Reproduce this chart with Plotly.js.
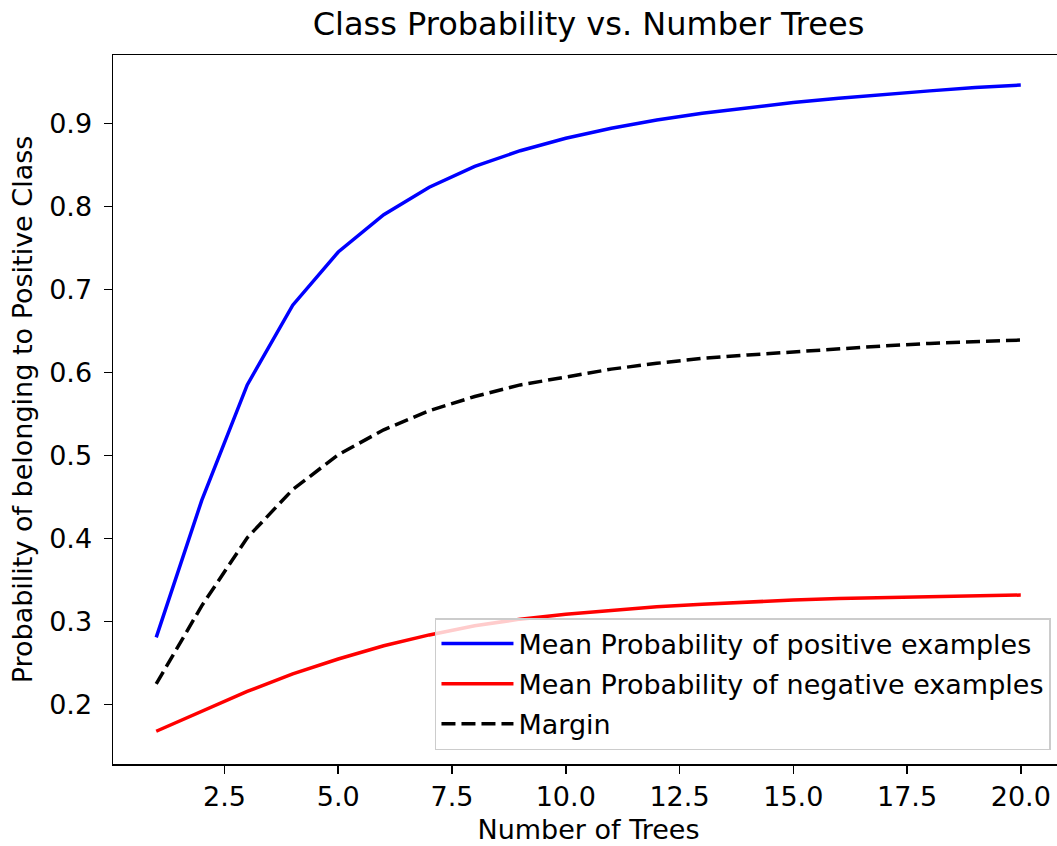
<!DOCTYPE html>
<html>
<head>
<meta charset="utf-8">
<script src="https://cdn.plot.ly/plotly-3.0.1.min.js"></script>
<style>
html, body { margin: 0; padding: 0; overflow: hidden; background: #fff; }
#chart { width: 1066px; height: 846px; }
</style>
</head>
<body>
<div id="chart"></div>
<script>
const numTrees = [1, 2, 3, 4, 5, 6, 7, 8, 9, 10, 11, 12, 13, 14, 15, 16, 17, 18, 19, 20];
const positiveMean = [0.281, 0.446, 0.585, 0.681, 0.745, 0.790, 0.823, 0.848, 0.867, 0.882, 0.894, 0.904, 0.912, 0.919, 0.925, 0.930, 0.935, 0.939, 0.943, 0.946];
const negativeMean = [0.168, 0.192, 0.216, 0.237, 0.255, 0.271, 0.284, 0.295, 0.303, 0.309, 0.314, 0.318, 0.321, 0.324, 0.326, 0.328, 0.329, 0.330, 0.331, 0.332];
const margin = [0.225, 0.319, 0.401, 0.459, 0.501, 0.531, 0.554, 0.571, 0.585, 0.595, 0.604, 0.611, 0.617, 0.621, 0.625, 0.629, 0.632, 0.635, 0.637, 0.639];
const seriesNames = ["Mean Probability of positive examples", "Mean Probability of negative examples", "Margin"];

const FONT = "DejaVu Sans, sans-serif";
const FS = 27;

const traces = [
  {x: numTrees, y: positiveMean, name: seriesNames[0], type: "scatter", mode: "lines",
   line: {color: "#0000ff", width: 3.5}, legendgroup: "a"},
  {x: numTrees, y: negativeMean, name: seriesNames[1], type: "scatter", mode: "lines",
   line: {color: "#ff0000", width: 3.5}, legendgroup: "b"},
  {x: numTrees, y: margin, name: seriesNames[2], type: "scatter", mode: "lines",
   line: {color: "#000000", width: 3.5, dash: "14px,6px"}, legendgroup: "c"}
];

const layout = {
  width: 1066, height: 846,
  margin: {l: 113, r: 2, t: 55, b: 82},
  paper_bgcolor: "#ffffff", plot_bgcolor: "#ffffff",
  font: {family: FONT, size: FS, color: "#000000"},
  title: {text: "Class Probability vs. Number Trees", font: {family: FONT, size: 32, color: "#000000"},
          x: 0.5, xanchor: "center", xref: "paper", yref: "container", y: 1 - 24 / 846, yanchor: "middle"},
  xaxis: {
    range: [0.05, 20.95], tick0: 0, dtick: 2.5, tickformat: ".1f",
    showgrid: false, zeroline: false,
    showline: true, linecolor: "#000000", linewidth: 1.5, mirror: true,
    ticks: "outside", ticklen: 8, tickwidth: 1.5, tickcolor: "#000000",
    tickfont: {family: FONT, size: FS, color: "#000000"},
    title: {text: "Number of Trees", font: {family: FONT, size: FS, color: "#000000"}, standoff: 9}
  },
  yaxis: {
    range: [0.1286, 0.9822], tick0: 0, dtick: 0.1, tickformat: ".1f",
    showgrid: false, zeroline: false,
    showline: true, linecolor: "#000000", linewidth: 1.5, mirror: true,
    ticks: "outside", ticklen: 8, tickwidth: 1.5, tickcolor: "#000000",
    ticklabelstandoff: 6,
    tickfont: {family: FONT, size: FS, color: "#000000"},
    title: {text: "Probability of belonging to Positive Class", font: {family: FONT, size: FS, color: "#000000"}, standoff: 8}
  },
  showlegend: true,
  legend: {
    x: 0.9863, xanchor: "right", y: 0.0197, yanchor: "bottom",
    bgcolor: "rgba(255,255,255,0.8)", bordercolor: "#cccccc", borderwidth: 1.5,
    font: {family: FONT, size: FS, color: "#000000"},
    itemwidth: 72,
    traceorder: "grouped", tracegroupgap: 2
  }
};

Plotly.newPlot("chart", traces, layout, {displayModeBar: false, staticPlot: true});
</script>
</body>
</html>
